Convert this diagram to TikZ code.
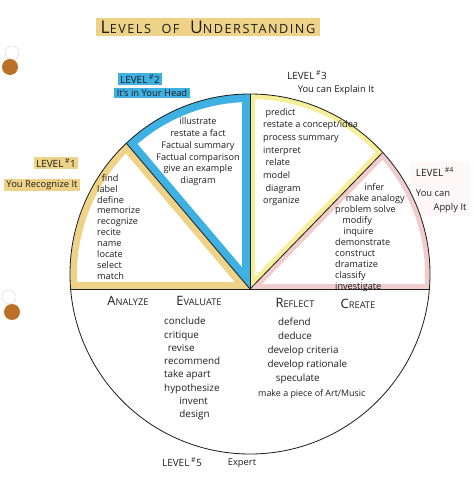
\documentclass[tikz,border=0pt]{standalone}
\usepackage{fontspec}
\setmainfont{Open Sans}
\usepackage{tikz}
\usetikzlibrary{calc, positioning}
\definecolor{goldwash}{RGB}{238,210,135}
\definecolor{lemonwash}{RGB}{247,238,155}
\definecolor{skywash}{RGB}{62,176,226}
\definecolor{rosewash}{RGB}{240,204,204}
\definecolor{punchbrown}{RGB}{186,112,38}
\definecolor{inkgray}{RGB}{30,30,30}
\newcommand{\capword}[3]{{\fontsize{#1}{#1}\selectfont #2}{\fontsize{0.72\dimexpr #1pt\relax}{#1}\selectfont #3}}

\begin{document}
\begin{tikzpicture}[x=0.03cm, y=0.03cm,
  rim/.style={draw=inkgray, line width=0.7pt},
  words/.style={font=\fontsize{7.8}{#1}\selectfont, text=inkgray, inner sep=0pt, align=left, anchor=north west},
  lvl/.style={font=\fontsize{8.5}{10}\selectfont, text=inkgray, inner xsep=2pt, inner ysep=1.5pt},
  head/.style={text=inkgray, inner sep=1pt},
  hole/.style={fill=punchbrown},
  ghost/.style={draw=black!15, line width=0.4pt},
]
  \useasboundingbox (0,0) rectangle (474,497);

  \coordinate (C) at (250,223);
  \coordinate (V) at (250,208);
  \coordinate (L) at ($(C)+(184.8:5.4cm)$);
  \coordinate (B) at ($(C)+(133.4:5.4cm)$);
  \coordinate (A) at ($(C)+(90:5.4cm)$);
  \coordinate (D) at ($(C)+(42.5:5.4cm)$);
  \coordinate (R) at ($(C)+(-4.8:5.4cm)$);

  \draw[ghost] (12,444) circle (7);
  \fill[hole] (10,430) circle (8);
  \draw[ghost] (9,200) circle (7);
  \fill[hole] (12,185) circle (8);

  \node[font=\addfontfeatures{LetterSpace=12}, text=inkgray, fill=goldwash, inner xsep=4pt, inner ysep=2pt] (title) at (208,470)
    {\capword{15}{L}{EVELS}\hspace{9pt}\capword{15}{}{OF}\hspace{9pt}\capword{15}{U}{NDERSTANDING}};

  \begin{scope}
    \clip (V) -- (L) arc[start angle=184.8, end angle=133.4, radius=5.4cm] -- cycle;
    \draw[goldwash, line width=0.42cm] (V) -- (L) arc[start angle=184.8, end angle=133.4, radius=5.4cm] -- cycle;
  \end{scope}
  \begin{scope}
    \clip (V) -- (B) arc[start angle=133.4, end angle=90, radius=5.4cm] -- cycle;
    \draw[skywash, line width=0.48cm] (V) -- (B) arc[start angle=133.4, end angle=90, radius=5.4cm] -- cycle;
  \end{scope}
  \begin{scope}
    \clip (V) -- (A) arc[start angle=90, end angle=42.5, radius=5.4cm] -- cycle;
    \draw[lemonwash, line width=0.3cm] (V) -- (A) arc[start angle=90, end angle=42.5, radius=5.4cm] -- cycle;
  \end{scope}
  \begin{scope}
    \clip (V) -- (D) arc[start angle=42.5, end angle=-4.8, radius=5.4cm] -- cycle;
    \draw[rosewash, line width=0.3cm] (V) -- (D) arc[start angle=42.5, end angle=-4.8, radius=5.4cm] -- cycle;
  \end{scope}
  \fill[rosewash, opacity=0.15] (410,335) rectangle (470,281);

  \draw[rim] (C) circle[radius=5.4cm];
  \draw[rim] (L) -- (R);
  \draw[rim] (V) -- (B);
  \draw[rim] (V) -- (A);
  \draw[rim] (V) -- (D);

  \node[lvl, fill=goldwash] (lvlone) at (56,334) {LEVEL\,\textsuperscript{\#}1};
  \node[lvl, fill=goldwash, font=\fontsize{8}{9}\selectfont] (tagone) at (42,312) {You Recognize It};
  \node[lvl, fill=skywash] (lvltwo) at (140,418) {LEVEL\,\textsuperscript{\#}2};
  \node[lvl, fill=skywash, font=\fontsize{8}{9}\selectfont] (tagtwo) at (152,404) {It's in Your Head};
  \node[lvl] (lvlthree) at (307,422) {LEVEL\,\textsuperscript{\#}3};
  \node[lvl, font=\fontsize{8}{9}\selectfont] (tagthree) at (336,407) {You can Explain It};
  \node[lvl] (lvlfour) at (435,325) {LEVEL\,\textsuperscript{\#4}};
  \node[lvl, font=\fontsize{8}{9}\selectfont] (tagfour) at (433,304) {You can};
  \node[lvl, font=\fontsize{8}{9}\selectfont] (tagfourb) at (450,289) {Apply It};
  \node[lvl] (lvlfive) at (182,35) {LEVEL\,\textsuperscript{\#}5};
  \node[lvl, font=\fontsize{8}{9}\selectfont] (tagfive) at (242,34) {Expert};

  \node[words=9.3] (recall) at (97,323)
    {\hspace{4pt}find\\label\\define\\memorize\\recognize\\recite\\name\\locate\\select\\match};
  \node[words=10.2, align=center, anchor=north] (grasp) at (198,380)
    {illustrate\\restate a fact\\Factual summary\\Factual comparison\\give an example\\diagram};
  \node[words=10.8] (explain) at (263,389)
    {\hspace{2pt}predict\\restate a concept/idea\\process summary\\interpret\\\hspace{2pt}relate\\model\\\hspace{2pt}diagram\\organize};
  \node[words=9.4] (apply) at (335,314)
    {\hspace{25pt}infer\\\hspace{9pt}make analogy\\problem solve\\\hspace{6pt}modify\\\hspace{7pt}inquire\\demonstrate\\construct\\dramatize\\classify\\investigate};

  \node[head] (analyze) at (128,196) {\capword{11}{A}{NALYZE}};
  \node[head] (evaluate) at (199,196) {\capword{11}{E}{VALUATE}};
  \node[head] (reflect) at (295,194) {\capword{11}{R}{EFLECT}};
  \node[head] (create) at (358,193) {\capword{11}{C}{REATE}};

  \node[words=11.35, font=\fontsize{8.4}{11.35}\selectfont] (judge) at (164,180)
    {conclude\\critique\\\hspace{3pt}revise\\recommend\\take apart\\hypothesize\\\hspace{13pt}invent\\\hspace{13pt}design};
  \node[words=12, font=\fontsize{8.4}{12}\selectfont] (invent) at (258,179)
    {\hspace{17pt}defend\\\hspace{17pt}deduce\\\hspace{8pt}develop criteria\\\hspace{8pt}develop rationale\\\hspace{15pt}speculate\\{\fontsize{7.6}{12}\selectfont make a piece of Art/Music}};
\end{tikzpicture}
\end{document}
